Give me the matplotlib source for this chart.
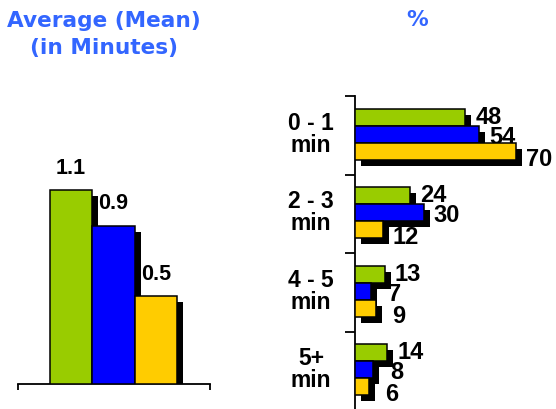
import matplotlib
matplotlib.use("Agg")
import matplotlib.pyplot as plt
import matplotlib.patheffects as pe

# --- data ---
series_colors = ["#99CC00", "#0000FF", "#FFCC00"]
mean_minutes = [1.1, 0.9, 0.5]
mean_labels = ["1.1", "0.9", "0.5"]

categories = ["0 - 1\nmin", "2 - 3\nmin", "4 - 5\nmin", "5+\nmin"]
pct_green = [48, 24, 13, 14]
pct_blue = [54, 30, 7, 8]
pct_yellow = [70, 12, 9, 6]

W, H = 556, 409
DPI = 100
fig = plt.figure(figsize=(W / DPI, H / DPI), dpi=DPI)
fig.patch.set_facecolor("white")

title_color = "#3366FF"
label_font = "Liberation Sans"
PX = 72.0 / DPI  # points per pixel

shadow = [pe.SimplePatchShadow(offset=(6 * PX, -6 * PX), shadow_rgbFace="black", alpha=1.0),
          pe.Normal()]

# ---------------- left: average in minutes ----------------
axL = fig.add_axes([18 / W, 25 / H, 192 / W, 284 / H])
axL.set_xlim(-1.253, 3.276)
axL.set_ylim(0, 1.614)
xs = [0, 1, 2]
bars = axL.bar(xs, mean_minutes, width=1.0, color=series_colors,
               edgecolor="black", linewidth=1.1, zorder=3)
for b in bars:
    b.set_path_effects(shadow)
for x, v, t in zip(xs, mean_minutes, mean_labels):
    axL.annotate(t, (x, v), xytext=(0, 22 * PX), textcoords="offset points",
                 ha="center", va="center", fontsize=15.5, fontweight="bold",
                 family=label_font, color="black")
for s in ["top", "right", "left"]:
    axL.spines[s].set_visible(False)
axL.spines["bottom"].set_linewidth(1.3)
axL.set_yticks([])
axL.set_xticks([-1.253, 3.276])
axL.set_xticklabels([])
axL.tick_params(axis="x", direction="out", length=4, width=1.3)

fig.text(104 / W, 1 - 21 / H, "Average (Mean)", ha="center", va="center",
         fontsize=15.6, fontweight="bold", family="DejaVu Sans", color=title_color)
fig.text(104 / W, 1 - 48 / H, "(in Minutes)", ha="center", va="center",
         fontsize=15.6, fontweight="bold", family="DejaVu Sans", color=title_color)
fig.text(417 / W, 1 - 20 / H, "%", ha="center", va="center",
         fontsize=15.6, fontweight="bold", family="DejaVu Sans", color=title_color)

# ---------------- right: distribution in percent ----------------
axR = fig.add_axes([355 / W, -1 / H, 200 / W, 314 / H])
px_per_unit = 2.3
axR.set_xlim(0, 200 / px_per_unit)
axR.set_ylim(4, 0)
cat_px = 78.5
bh = 17 / cat_px
centers = [i + 0.5 - 1 / cat_px for i in range(len(categories))]
label_dy = [0, 3, 8]
for k, (vals, col) in enumerate(zip([pct_green, pct_blue, pct_yellow], series_colors)):
    ys = [c + (k - 1) * bh for c in centers]
    hb = axR.barh(ys, vals, height=bh, color=col, edgecolor="black",
                  linewidth=1.1, zorder=3)
    for b in hb:
        b.set_path_effects(shadow)
    for y, v in zip(ys, vals):
        axR.annotate(str(v), (v, y), xytext=(23 * PX, -label_dy[k] * PX),
                     textcoords="offset points", ha="center", va="center",
                     fontsize=17, fontweight="bold", family=label_font,
                     color="black", annotation_clip=False)

for c, name in zip(centers, categories):
    axR.text((311 - 355) / 200, c, name, transform=axR.get_yaxis_transform(),
             ha="center", va="center", multialignment="center",
             fontsize=16.5, fontweight="bold", family=label_font,
             linespacing=0.95, color="black")

for s in ["top", "right", "bottom"]:
    axR.spines[s].set_visible(False)
axR.spines["left"].set_linewidth(1.3)
axR.set_xticks([])
axR.set_yticks([0, 1, 2, 3, 4])
axR.set_yticklabels([])
axR.tick_params(axis="y", direction="out", length=7, width=1.3)

fig.savefig("out.png", dpi=DPI, facecolor="white")
